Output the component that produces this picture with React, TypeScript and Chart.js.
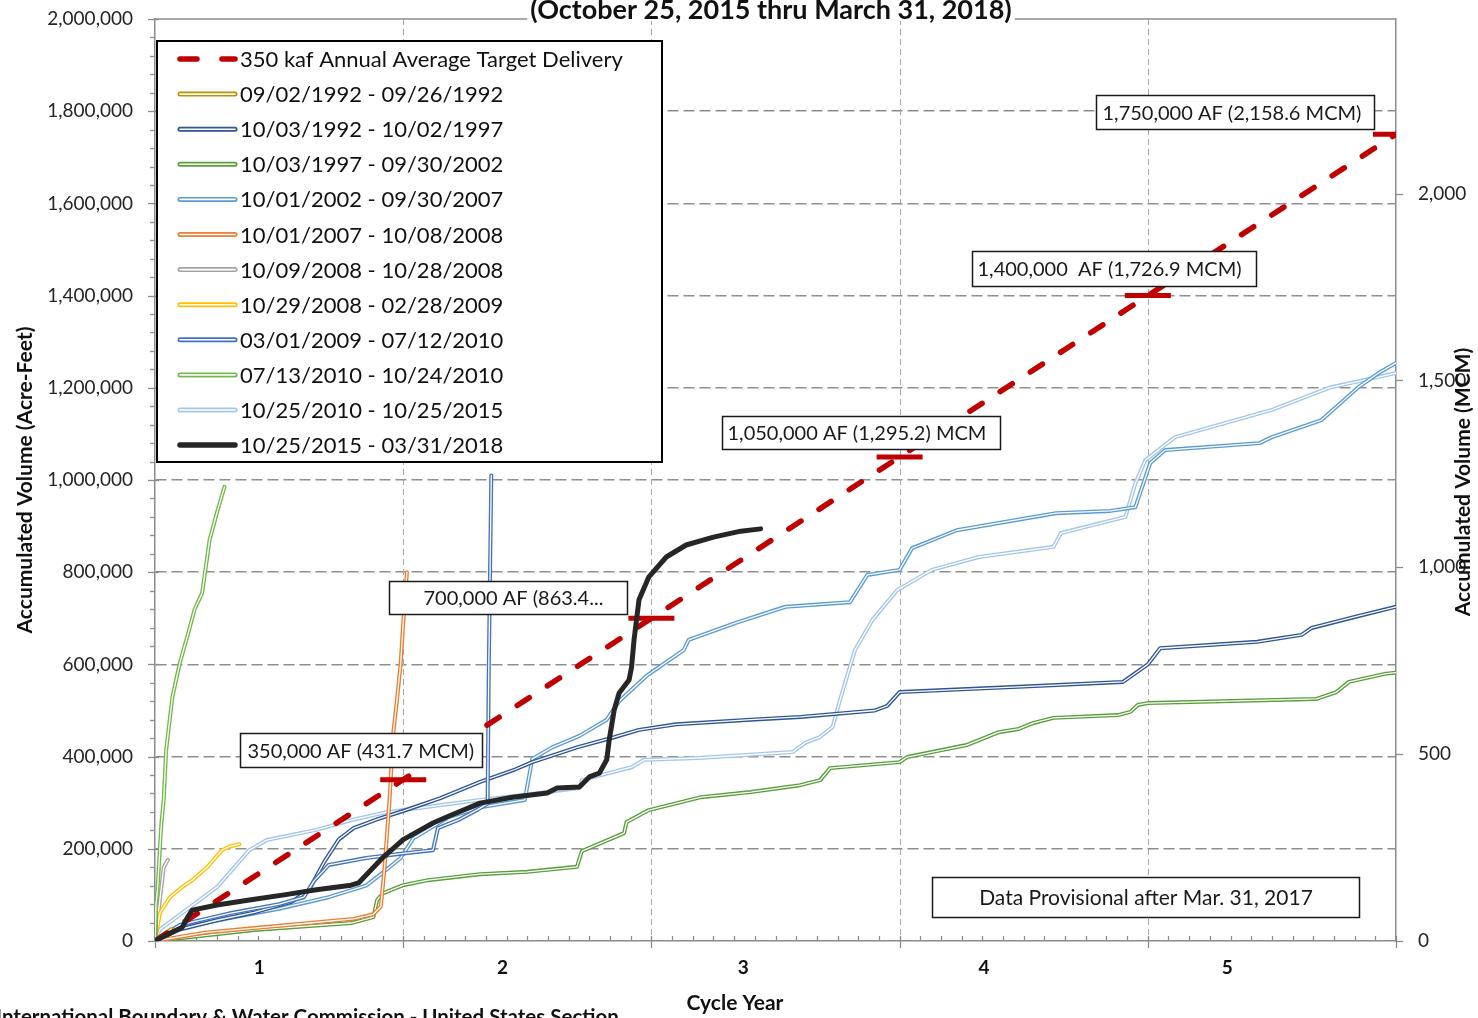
import React, { useEffect, useRef } from 'react';
import { Chart, registerables } from 'chart.js';

Chart.register(...registerables);

const FONT = 'Lato, "Open Sans", "DejaVu Sans", sans-serif';

type Pt = [number, number];

// ---- text ----
const titleText = '(October 25, 2015 thru March 31, 2018)';
const footerText = 'International Boundary & Water Commission - United States Section';
const xTitle = 'Cycle Year';
const yTitle = 'Accumulated Volume (Acre-Feet)';
const y2Title = 'Accumulated Volume (MCM)';

// ---- axes ----
const cycleLabels = ['1', '2', '3', '4', '5'];
const cycleLabelPos = [0.42, 1.4, 2.37, 3.34, 4.32];
const yearGrid = [1, 2, 3, 4];
const xMax = 5;
const monthsPerYear = 12;
const afMax = 2000000;
const afStep = 200000;
const afMinorStep = 40000;
const afToMcm = 0.0012335;
const mcmTicks = [0, 500, 1000, 1500, 2000];

// ---- data: [cycle year, accumulated acre-feet] ----
const target350: Pt[] = [[0, 0], [5, 1750000]];
const targetMarks: Pt[] = [[1, 350000], [2, 700000], [3, 1050000], [4, 1400000], [5, 1750000]];

const s1992a: Pt[] = [[0, 0], [0.02, 9000], [0.045, 18000], [0.066, 26000]];

const s1992: Pt[] = [
  [0, 0], [0.1, 25000], [0.25, 45000], [0.4, 62000], [0.55, 85000], [0.62, 110000], [0.68, 170000],
  [0.74, 220000], [0.8, 245000], [0.9, 265000], [1.0, 282000], [1.15, 310000], [1.31, 345000],
  [1.45, 372000], [1.52, 388000], [1.7, 420000], [1.85, 442000], [1.95, 458000], [2.1, 470000],
  [2.4, 480000], [2.6, 486000], [2.9, 500000], [2.95, 510000], [3.0, 540000], [3.5, 552000],
  [3.9, 562000], [3.95, 581000], [4.0, 600000], [4.05, 635000], [4.44, 649000], [4.62, 664000],
  [4.66, 679000], [4.85, 705000], [5.0, 725000],
];

const s1997: Pt[] = [
  [0, 0], [0.4, 24000], [0.79, 39000], [0.88, 52000], [0.895, 89000], [0.92, 104000], [1.0, 121000],
  [1.1, 132000], [1.31, 145000], [1.5, 150000], [1.7, 161000], [1.72, 195000], [1.89, 234000],
  [1.9, 258000], [1.99, 284000], [2.2, 312000], [2.4, 323000], [2.6, 338000], [2.68, 349000],
  [2.72, 375000], [3.0, 388000], [3.03, 399000], [3.27, 425000], [3.4, 453000], [3.48, 460000],
  [3.54, 473000], [3.62, 484000], [3.88, 490000], [3.93, 497000], [3.96, 512000], [4.0, 516000],
  [4.68, 525000], [4.76, 540000], [4.81, 562000], [4.96, 580000], [5.0, 582000],
];

const s2002: Pt[] = [
  [0, 0], [0.1, 28000], [0.3, 50000], [0.5, 70000], [0.7, 95000], [0.85, 120000], [0.91, 145000],
  [0.99, 180000], [1.04, 222000], [1.18, 268000], [1.31, 290000], [1.49, 306000], [1.52, 395000],
  [1.6, 420000], [1.71, 445000], [1.82, 480000], [1.87, 520000], [1.98, 575000], [2.02, 590000],
  [2.13, 631000], [2.15, 653000], [2.34, 690000], [2.54, 725000], [2.8, 735000], [2.87, 794000],
  [3.0, 805000], [3.05, 852000], [3.23, 891000], [3.63, 928000], [3.85, 933000], [3.95, 941000],
  [4.01, 1037000], [4.07, 1065000], [4.45, 1080000], [4.5, 1093000], [4.7, 1130000],
  [4.85, 1202000], [4.93, 1232000], [5.0, 1254000],
];

const s2007: Pt[] = [
  [0, 0], [0.2, 18000], [0.4, 28000], [0.6, 38000], [0.8, 48000], [0.88, 58000], [0.91, 75000],
  [0.925, 160000], [0.945, 306000], [0.96, 450000], [0.975, 523000], [0.99, 603000], [1.0, 690000],
  [1.015, 800000],
];

const s2008a: Pt[] = [[0, 0], [0.01, 45000], [0.02, 90000], [0.035, 160000], [0.052, 176000]];

const s2008b: Pt[] = [
  [0, 0], [0.01, 30000], [0.02, 61000], [0.06, 95000], [0.11, 117000], [0.15, 132000],
  [0.21, 160000], [0.27, 197000], [0.3, 205000], [0.34, 210000],
];

const s2009: Pt[] = [
  [0, 0], [0.1, 35000], [0.3, 60000], [0.5, 80000], [0.6, 95000], [0.64, 130000], [0.7, 165000],
  [0.85, 180000], [1.0, 190000], [1.12, 197000], [1.14, 245000], [1.22, 262000], [1.3, 285000],
  [1.34, 298000], [1.345, 600000], [1.355, 1010000],
];

const s2010a: Pt[] = [
  [0, 0], [0.004, 80000], [0.01, 110000], [0.025, 250000], [0.035, 306000], [0.045, 414000],
  [0.07, 529000], [0.1, 603000], [0.13, 660000], [0.16, 720000], [0.19, 755000], [0.22, 870000],
  [0.25, 930000], [0.28, 985000],
];

const s2010b: Pt[] = [
  [0, 0], [0.02, 25000], [0.11, 61000], [0.25, 117000], [0.38, 197000], [0.45, 219000],
  [0.65, 241000], [0.79, 262000], [0.92, 278000], [1.0, 284000], [1.31, 306000], [1.5, 318000],
  [1.71, 332000], [1.72, 349000], [1.92, 377000], [1.97, 393000], [2.19, 397000], [2.57, 410000],
  [2.62, 430000], [2.68, 443000], [2.73, 464000], [2.76, 523000], [2.82, 631000], [2.89, 696000],
  [2.99, 761000], [3.13, 805000], [3.32, 833000], [3.62, 855000], [3.65, 885000], [3.91, 920000],
  [3.95, 993000], [3.99, 1043000], [4.11, 1093000], [4.5, 1152000], [4.73, 1200000], [5.0, 1232000],
];

const s2015: Pt[] = [
  [0, 0], [0.06, 17000], [0.11, 30000], [0.13, 50000], [0.15, 67000], [0.25, 78000], [0.38, 89000],
  [0.52, 100000], [0.65, 111000], [0.79, 121000], [0.82, 126000], [0.87, 154000], [0.92, 182000],
  [1.0, 220000], [1.12, 256000], [1.18, 270000], [1.31, 299000], [1.44, 312000], [1.58, 321000],
  [1.62, 332000], [1.71, 334000], [1.75, 356000], [1.79, 364000], [1.82, 393000], [1.83, 436000],
  [1.85, 501000], [1.87, 538000], [1.91, 566000], [1.92, 594000], [1.93, 653000], [1.95, 740000],
  [1.99, 790000], [2.06, 833000], [2.14, 859000], [2.25, 876000], [2.36, 889000], [2.44, 894000],
];

const seriesLabels = [
  '350 kaf Annual Average Target Delivery',
  '09/02/1992 - 09/26/1992',
  '10/03/1992 - 10/02/1997',
  '10/03/1997 - 09/30/2002',
  '10/01/2002 - 09/30/2007',
  '10/01/2007 - 10/08/2008',
  '10/09/2008 - 10/28/2008',
  '10/29/2008 - 02/28/2009',
  '03/01/2009 - 07/12/2010',
  '07/13/2010 - 10/24/2010',
  '10/25/2010 - 10/25/2015',
  '10/25/2015 - 03/31/2018',
];
const seriesData: Pt[][] = [target350, s1992a, s1992, s1997, s2002, s2007, s2008a, s2008b, s2009, s2010a, s2010b, s2015];
const seriesColors = [
  '#C00000', '#BF9000', '#2F5597', '#5A9E3C', '#5B9BD5', '#ED7D31', '#A5A5A5', '#FFC000',
  '#4472C4', '#74B84A', '#A4C6EA', '#262626',
];
const seriesKind = ['target', 'compound', 'compound', 'compound', 'compound', 'compound', 'compound', 'compound', 'compound', 'compound', 'compound', 'solid'];
const seriesZ = [2, 4, 10, 8, 11, 7, 6, 5, 9, 3, 12, 0];

const labelBoxes = [
  { text: '350,000 AF (431.7 MCM)', x: 0.342, y: 451000, w: 242, h: 34, align: 'left', pad: 7 },
  { text: '700,000 AF (863.4...', x: 0.943, y: 781000, w: 238, h: 33, align: 'left', pad: 34 },
  { text: '1,050,000 AF (1,295.2) MCM', x: 2.284, y: 1139000, w: 278, h: 33, align: 'left', pad: 5 },
  { text: '1,400,000  AF (1,726.9 MCM)', x: 3.292, y: 1497000, w: 284, h: 35, align: 'left', pad: 5 },
  { text: '1,750,000 AF (2,158.6 MCM)', x: 3.791, y: 1835000, w: 278, h: 34, align: 'left', pad: 6 },
  { text: 'Data Provisional after Mar. 31, 2017', x: 3.13, y: 139000, w: 427, h: 40, align: 'center', pad: 0 },
];

const PLOT_TOP = 19;

const fmt = (v: number) => Math.round(v).toLocaleString('en-US');

function line(ctx: CanvasRenderingContext2D, x1: number, y1: number, x2: number, y2: number) {
  ctx.beginPath();
  ctx.moveTo(x1, y1);
  ctx.lineTo(x2, y2);
  ctx.stroke();
}

function drawLegendSample(ctx: CanvasRenderingContext2D, kind: string, color: string, x0: number, x1: number, y: number) {
  ctx.save();
  ctx.lineCap = 'round';
  if (kind === 'target') {
    ctx.strokeStyle = color;
    ctx.lineWidth = 5.5;
    ctx.setLineDash([17, 25]);
    line(ctx, x0 + 2, y, x1, y);
  } else if (kind === 'solid') {
    ctx.strokeStyle = color;
    ctx.lineWidth = 5.5;
    line(ctx, x0 + 2, y, x1, y);
  } else {
    ctx.strokeStyle = color;
    ctx.lineWidth = 5;
    line(ctx, x0 + 2, y, x1, y);
    ctx.strokeStyle = '#ffffff';
    ctx.lineWidth = 1.6;
    line(ctx, x0 + 2, y, x1, y);
  }
  ctx.restore();
}

const decoPlugin = {
  id: 'deco',
  afterLayout(chart: any) {
    const a = chart.chartArea;
    a.top = PLOT_TOP;
    a.height = a.bottom - PLOT_TOP;
    ['y', 'y2'].forEach((id) => {
      const s = chart.scales[id];
      if (!s) return;
      s.top = PLOT_TOP;
      s.height = s.bottom - PLOT_TOP;
      s.configure();
    });
  },
  beforeDatasetsDraw(chart: any) {
    const { ctx, chartArea: a, scales } = chart;
    const xs = scales.x, ys = scales.y, y2s = scales.y2;
    ctx.save();
    // vertical dashed gridlines
    ctx.strokeStyle = '#a8a8a8';
    ctx.lineWidth = 1;
    ctx.setLineDash([6, 4]);
    yearGrid.forEach((v) => {
      const px = Math.round(xs.getPixelForValue(v)) + 0.5;
      line(ctx, px, a.top, px, a.bottom);
    });
    ctx.setLineDash([]);
    // top border
    ctx.strokeStyle = '#8c8c8c';
    ctx.lineWidth = 1.5;
    line(ctx, a.left, a.top, a.right, a.top);
    // left ticks
    ctx.lineWidth = 1.3;
    for (let v = 0; v <= afMax; v += afMinorStep) {
      const py = Math.round(ys.getPixelForValue(v)) + 0.5;
      if (v % afStep === 0) line(ctx, a.left - 7, py, a.left + 4, py);
      else line(ctx, a.left - 5, py, a.left, py);
    }
    // bottom ticks
    for (let m = 0; m <= xMax * monthsPerYear; m++) {
      const px = Math.round(xs.getPixelForValue(m / monthsPerYear)) + 0.5;
      if (m % monthsPerYear === 0) line(ctx, px, a.bottom - 5, px, a.bottom + 7);
      else line(ctx, px, a.bottom - 5, px, a.bottom);
    }
    // right ticks
    mcmTicks.forEach((v) => {
      const py = Math.round(y2s.getPixelForValue(v)) + 0.5;
      line(ctx, a.right, py, a.right + 7, py);
    });
    ctx.restore();
  },
  afterDatasetDraw(chart: any, args: any) {
    if (seriesKind[args.index] !== 'compound') return;
    const { ctx, chartArea: a } = chart;
    const pts = args.meta.data;
    if (!pts || !pts.length) return;
    ctx.save();
    ctx.beginPath();
    ctx.rect(a.left, a.top, a.right - a.left, a.bottom - a.top);
    ctx.clip();
    ctx.beginPath();
    pts.forEach((p: any, i: number) => (i ? ctx.lineTo(p.x, p.y) : ctx.moveTo(p.x, p.y)));
    ctx.strokeStyle = '#ffffff';
    ctx.lineWidth = 1.3;
    ctx.lineJoin = 'round';
    ctx.lineCap = 'round';
    ctx.stroke();
    ctx.restore();
  },
  afterDraw(chart: any) {
    const { ctx, chartArea: a, scales } = chart;
    const xs = scales.x, ys = scales.y;
    ctx.save();
    // annotation boxes
    labelBoxes.forEach((b) => {
      const bx = Math.round(xs.getPixelForValue(b.x)) + 0.5;
      const by = Math.round(ys.getPixelForValue(b.y)) + 0.5;
      ctx.fillStyle = '#ffffff';
      ctx.fillRect(bx, by, b.w, b.h);
      ctx.strokeStyle = '#1a1a1a';
      ctx.lineWidth = 1.5;
      ctx.strokeRect(bx, by, b.w, b.h);
      const size = b.align === 'center' ? 21 : 20;
      ctx.font = `${size}px ${FONT}`;
      ctx.fillStyle = '#1a1a1a';
      ctx.textBaseline = 'middle';
      if (b.align === 'center') {
        ctx.textAlign = 'center';
        ctx.fillText(b.text, bx + b.w / 2, by + b.h / 2 + 1);
      } else {
        ctx.textAlign = 'left';
        ctx.fillText(b.text, bx + b.pad, by + b.h / 2 + 1, b.w - b.pad - 4);
      }
    });

    // legend
    const lx = a.left + 2, ly = a.top + 22, lw = 505, lh = 421;
    ctx.fillStyle = '#ffffff';
    ctx.fillRect(lx, ly, lw, lh);
    ctx.strokeStyle = '#000000';
    ctx.lineWidth = 2;
    ctx.strokeRect(lx, ly, lw, lh);
    ctx.font = `22px ${FONT}`;
    ctx.textAlign = 'left';
    ctx.textBaseline = 'middle';
    seriesLabels.forEach((lab, i) => {
      const cy = ly + 18 + i * 35.1;
      drawLegendSample(ctx, seriesKind[i], seriesColors[i], lx + 21, lx + 78, cy);
      ctx.fillStyle = '#111111';
      ctx.fillText(lab, lx + 83, cy + 1);
    });

    // title (with white backing over the plot border)
    ctx.font = `bold 27px ${FONT}`;
    const tw = ctx.measureText(titleText).width;
    const tcx = 771;
    ctx.fillStyle = '#ffffff';
    ctx.fillRect(tcx - tw / 2 - 3, 0, tw + 6, a.top + 2);
    ctx.fillStyle = '#111111';
    ctx.textAlign = 'center';
    ctx.textBaseline = 'alphabetic';
    ctx.fillText(titleText, tcx, 19);

    ctx.font = `bold 21px ${FONT}`;
    ctx.textBaseline = 'middle';
    ctx.fillText(xTitle, 735, 1003);

    ctx.save();
    ctx.translate(25, (a.top + a.bottom) / 2);
    ctx.rotate(-Math.PI / 2);
    ctx.fillText(yTitle, 0, 0);
    ctx.restore();

    ctx.save();
    ctx.translate(1463, 482);
    ctx.rotate(-Math.PI / 2);
    ctx.fillText(y2Title, 0, 0);
    ctx.restore();

    ctx.font = `bold 20.5px ${FONT}`;
    ctx.textAlign = 'left';
    ctx.textBaseline = 'alphabetic';
    ctx.fillText(footerText, -4, 1024);
    ctx.restore();
  },
};

const zeroPadding = () => ({ left: 0, top: 0, right: 0, bottom: 0 });

export default function App() {
  const ref = useRef<HTMLCanvasElement | null>(null);

  useEffect(() => {
    document.body.style.margin = '0';
    const canvas = ref.current;
    if (!canvas) return;

    const datasets: any[] = seriesLabels.map((label, i) => {
      const kind = seriesKind[i];
      return {
        label,
        data: seriesData[i].map(([x, y]) => ({ x, y })),
        borderColor: seriesColors[i],
        backgroundColor: seriesColors[i],
        borderWidth: kind === 'solid' ? 5 : kind === 'target' ? 5.5 : 4,
        borderDash: kind === 'target' ? [14.5, 21.5] : [],
        borderCapStyle: 'round',
        borderJoinStyle: 'round',
        pointRadius: 0,
        pointHoverRadius: 0,
        fill: false,
        tension: 0,
        order: seriesZ[i],
      };
    });
    datasets.push({
      label: 'target marks',
      data: targetMarks.map(([x, y]) => ({ x, y })),
      showLine: false,
      pointStyle: 'line',
      pointRadius: 23,
      pointHoverRadius: 23,
      pointBorderWidth: 5,
      pointBorderColor: '#C00000',
      borderColor: '#C00000',
      order: 1,
    });

    const noPad = (s: any) => {
      s.paddingTop = 0;
      s.paddingBottom = 0;
      s.paddingLeft = 0;
      s.paddingRight = 0;
      s.getPadding = zeroPadding;
    };

    const chart = new Chart(canvas, {
      type: 'line',
      data: { datasets },
      plugins: [decoPlugin],
      options: {
        responsive: false,
        maintainAspectRatio: false,
        devicePixelRatio: 1,
        animation: false,
        layout: { padding: { top: PLOT_TOP, left: 0, right: 0, bottom: 0 } },
        plugins: { legend: { display: false }, tooltip: { enabled: false }, title: { display: false } },
        events: [],
        scales: {
          x: {
            type: 'linear',
            min: 0,
            max: xMax,
            afterBuildTicks: (s: any) => {
              s.ticks = cycleLabelPos.map((v) => ({ value: v }));
            },
            afterFit: (s: any) => {
              s.height = 77;
              noPad(s);
            },
            ticks: {
              autoSkip: false,
              maxRotation: 0,
              padding: 15,
              color: '#111111',
              font: { family: FONT, size: 19, weight: 'bold' },
              callback: (_v: any, idx: number) => cycleLabels[idx],
            },
            grid: { display: false, drawTicks: false },
            border: { display: true, color: '#8c8c8c', width: 1.5 },
          },
          y: {
            type: 'linear',
            position: 'left',
            min: 0,
            max: afMax,
            afterFit: (s: any) => {
              s.width = 155;
              noPad(s);
            },
            ticks: {
              stepSize: afStep,
              padding: 22,
              color: '#262626',
              font: { family: FONT, size: 19 },
              callback: (v: any) => fmt(Number(v)),
            },
            grid: {
              drawTicks: false,
              lineWidth: 1.5,
              color: (c: any) => (c.tick && (c.tick.value === 0 || c.tick.value === afMax) ? 'rgba(0,0,0,0)' : '#8e8e8e'),
            },
            border: { display: true, color: '#8c8c8c', width: 1.5, dash: [11, 5] },
          },
          y2: {
            type: 'linear',
            position: 'right',
            min: 0,
            max: afMax * afToMcm,
            afterBuildTicks: (s: any) => {
              s.ticks = mcmTicks.map((v) => ({ value: v }));
            },
            afterFit: (s: any) => {
              s.width = 82;
              noPad(s);
            },
            ticks: {
              padding: 22,
              color: '#262626',
              font: { family: FONT, size: 19 },
              callback: (v: any) => fmt(Number(v)),
            },
            grid: { display: false, drawTicks: false },
            border: { display: true, color: '#8c8c8c', width: 1.5 },
          },
        },
      } as any,
    });

    return () => chart.destroy();
  }, []);

  return (
    <div style={{ width: 1478, height: 1018, background: '#ffffff' }}>
      <canvas ref={ref} width={1478} height={1018} style={{ display: 'block' }} />
    </div>
  );
}
